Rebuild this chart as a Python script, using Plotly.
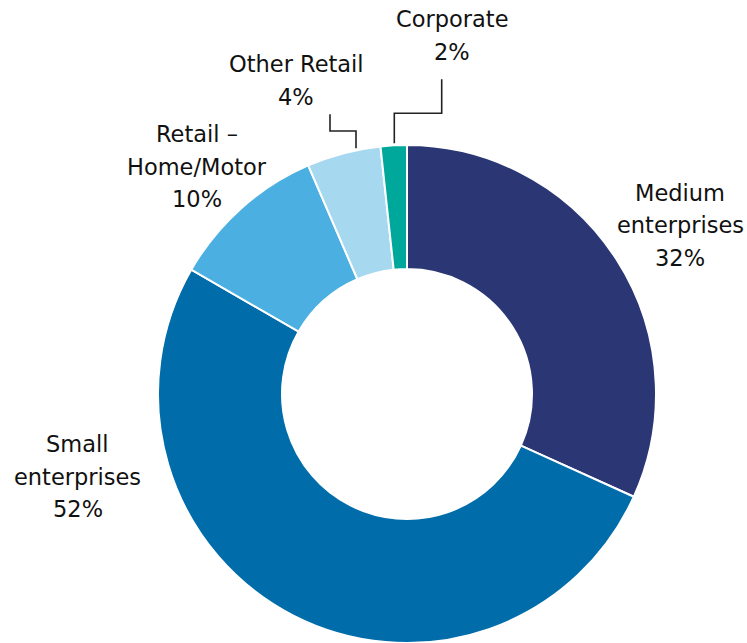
import math
import plotly.graph_objects as go

# ---- data ----
categories = ["Medium enterprises", "Small enterprises", "Retail – Home/Motor", "Other Retail", "Corporate"]
values = [31.8, 51.6, 10.2, 4.8, 1.7]
pct_labels = ["32%", "52%", "10%", "4%", "2%"]
label_lines = [
    ["Medium", "enterprises"],
    ["Small", "enterprises"],
    ["Retail –", "Home/Motor"],
    ["Other Retail"],
    ["Corporate"],
]
colors = ["#2B3674", "#006CAA", "#4BAFE1", "#A6D8F0", "#00A89C"]

# ---- layout constants (pixels) ----
W, H = 747, 643
CX, CY, R = 407, 394, 249
HOLE = 0.502
FONT = "DejaVu Sans"
FS = 22.5
LINE = 32.5
# label block centers: (x center, y of first line middle)
label_pos = [(680, 193), (77.5, 444), (196.5, 134), (296, 64), (452, 19)]
# leader lines: list of waypoints (x, y) after the start point on the ring
leaders = {
    4: {"x0": 394.3, "pts": [(394.3, 113.3), (441.7, 113.3), (441.7, 79.3)]},
    3: {"x0": 356.0, "pts": [(356.0, 131.0), (330.0, 131.0), (330.0, 114.3)]},
}


def px(x):
    return x / W


def py(y):
    return 1 - y / H


fig = go.Figure(
    go.Pie(
        labels=categories,
        values=values,
        marker=dict(colors=colors, line=dict(color="white", width=2)),
        hole=HOLE,
        sort=False,
        direction="clockwise",
        rotation=0,
        textinfo="none",
        hoverinfo="label+percent",
        domain=dict(x=[px(CX - R), px(CX + R)], y=[py(CY + R), py(CY - R)]),
        showlegend=False,
    )
)

annotations = []
for i, cat in enumerate(categories):
    lines = label_lines[i] + [pct_labels[i]]
    x0, y0 = label_pos[i]
    for j, t in enumerate(lines):
        annotations.append(
            dict(
                x=px(x0), y=py(y0 + j * LINE), xref="paper", yref="paper",
                text=t, showarrow=False, xanchor="center", yanchor="middle",
                font=dict(family=FONT, size=FS, color="#111111"),
            )
        )

shapes = []
for i, ld in leaders.items():
    x0 = ld["x0"]
    y0 = CY - math.sqrt(R ** 2 - (x0 - CX) ** 2) - 2
    pts = [(x0, y0)] + ld["pts"]
    path = "M " + " L ".join(f"{px(a)},{py(b)}" for a, b in pts)
    shapes.append(
        dict(type="path", path=path, xref="paper", yref="paper",
             line=dict(color="#222222", width=1.6))
    )

fig.update_layout(
    width=W, height=H,
    margin=dict(l=0, r=0, t=0, b=0),
    paper_bgcolor="white", plot_bgcolor="white",
    annotations=annotations, shapes=shapes,
)

fig.write_html(
    "out.html",
    config={"displayModeBar": False},
    post_script="document.body.style.margin='0';document.body.style.padding='0';document.body.style.overflow='hidden';",
)
